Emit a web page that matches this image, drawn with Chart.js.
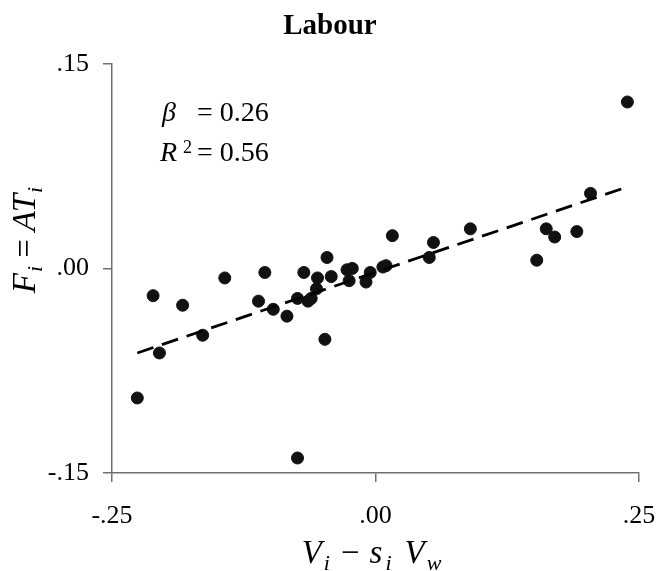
<!DOCTYPE html>
<html>
<head>
<meta charset="utf-8">
<title>Labour</title>
<script src="https://cdn.jsdelivr.net/npm/chart.js@4.4.1/dist/chart.umd.min.js"></script>
<style>
    body { margin: 0; background: #fff; }
    #wrap { width: 660px; height: 571px; }
</style>
</head>
<body>
<div id="wrap"><canvas id="labourChart" width="660" height="571"></canvas></div>
<script>
// data
const xVals = [0.239, 0.204, 0.191, 0.162, 0.170, 0.153, 0.090, 0.055, 0.051, 0.016,
               0.010, 0.007, -0.005, -0.009, -0.022, -0.027, -0.025, -0.042, -0.046, -0.048,
               -0.056, -0.055, -0.061, -0.064, -0.068, -0.074, -0.074, -0.084, -0.097, -0.105,
               -0.111, -0.143, -0.164, -0.183, -0.205, -0.211, -0.226];
const yVals = [0.122, 0.055, 0.027, 0.029, 0.023, 0.006, 0.029, 0.019, 0.008, 0.024,
               0.002, 0.001, -0.003, -0.010, 0.000, -0.001, -0.009, -0.006, 0.008, -0.052,
               -0.015, -0.007, -0.022, -0.024, -0.003, -0.022, -0.139, -0.035, -0.030, -0.003,
               -0.024, -0.007, -0.049, -0.027, -0.062, -0.020, -0.095];
const fitX = [-0.226, 0.240];
const fitY = [-0.062, 0.060];
const xTicks = [-0.25, 0, 0.25];
const yTicks = [-0.15, 0, 0.15];
const chartTitle = 'Labour';
const betaValue = '0.26';
const r2Value = '0.56';

const SERIF = '"Liberation Serif", "Times New Roman", serif';
const AXIS_COLOR = '#707070';

function fmtTick(v) {
    const s = Math.abs(v).toFixed(2).replace(/^0/, '');
    return (v < 0 ? '-' : '') + s;
}

// draws a line of text made of pieces with their own font and vertical shift
function drawPieces(ctx, pieces, x, y, align) {
    let total = 0;
    pieces.forEach(p => {
        ctx.font = p.font;
        p.w = ctx.measureText(p.t).width + (p.gap || 0);
        total += p.w;
    });
    let cx = align === 'center' ? x - total / 2 : x;
    pieces.forEach(p => {
        ctx.font = p.font;
        ctx.fillText(p.t, cx, y + (p.dy || 0));
        cx += p.w;
    });
}

const it = size => `italic ${size}px ${SERIF}`;
const rm = size => `${size}px ${SERIF}`;

const textPlugin = {
    id: 'textPlugin',
    afterDraw(chart) {
        const { ctx, chartArea } = chart;
        ctx.save();
        ctx.fillStyle = '#000';
        ctx.textBaseline = 'alphabetic';
        ctx.textAlign = 'left';

        // annotation: beta and R squared
        const ax = chartArea.left + 50;
        const ay = chartArea.top + 57;
        ctx.font = it(28);
        ctx.fillText('β', ax, ay);
        ctx.fillText('R', ax - 2, ay + 40);
        ctx.font = rm(18);
        ctx.fillText('2', ax + 21, ay + 32);
        ctx.font = rm(28);
        ctx.fillText('= ' + betaValue, ax + 35, ay);
        ctx.fillText('= ' + r2Value, ax + 35, ay + 40);

        // x axis title
        const mid = (chartArea.left + chartArea.right) / 2 - 4;
        drawPieces(ctx, [
            { t: 'V', font: it(33), gap: 2 },
            { t: 'i', font: it(22), dy: 7, gap: 11 },
            { t: '\u2212', font: rm(33), gap: 10 },
            { t: 's', font: it(33), gap: 3 },
            { t: 'i', font: it(22), dy: 7, gap: 13 },
            { t: 'V', font: it(33), gap: 2 },
            { t: 'w', font: it(22), dy: 7 }
        ], mid, 563, 'center');

        // y axis title
        ctx.translate(35, 240);
        ctx.rotate(-Math.PI / 2);
        drawPieces(ctx, [
            { t: 'F', font: it(33), gap: 1 },
            { t: 'i', font: it(22), dy: 7, gap: 8 },
            { t: '=', font: rm(33), gap: 8 },
            { t: 'AT', font: it(33), gap: 1 },
            { t: 'i', font: it(22), dy: 7 }
        ], 0, 0, 'center');
        ctx.restore();
    }
};

const axisGrid = {
    drawOnChartArea: false,
    drawTicks: true,
    tickLength: 9,
    color: AXIS_COLOR,
    lineWidth: 1.5
};

new Chart(document.getElementById('labourChart'), {
    type: 'scatter',
    data: {
        datasets: [
            {
                label: 'countries',
                data: xVals.map((x, i) => ({ x: x, y: yVals[i] })),
                backgroundColor: '#111',
                borderColor: '#111',
                pointRadius: 6,
                pointHoverRadius: 6,
                order: 2
            },
            {
                type: 'line',
                label: 'fit',
                data: fitX.map((x, i) => ({ x: x, y: fitY[i] })),
                borderColor: '#000',
                borderWidth: 2.8,
                borderDash: [17, 9],
                pointRadius: 0,
                fill: false,
                order: 1
            }
        ]
    },
    options: {
        responsive: false,
        animation: false,
        events: [],
        layout: { padding: 0 },
        plugins: {
            legend: { display: false },
            tooltip: { enabled: false },
            title: {
                display: true,
                text: chartTitle,
                color: '#000',
                font: { family: SERIF, size: 29, weight: 'bold' },
                padding: { top: 9, bottom: 20 }
            }
        },
        scales: {
            x: {
                type: 'linear',
                min: -0.25,
                max: 0.25,
                afterBuildTicks: scale => { scale.ticks = xTicks.map(v => ({ value: v })); },
                afterFit: scale => { scale.height = 98; scale.paddingRight = 21; },
                grid: axisGrid,
                border: { display: true, color: AXIS_COLOR, width: 1.5 },
                ticks: {
                    color: '#000',
                    padding: 19,
                    maxRotation: 0,
                    font: { family: SERIF, size: 26 },
                    callback: v => fmtTick(v)
                }
            },
            y: {
                type: 'linear',
                min: -0.15,
                max: 0.15,
                afterBuildTicks: scale => { scale.ticks = yTicks.map(v => ({ value: v })); },
                afterFit: scale => { scale.width = 112; },
                grid: axisGrid,
                border: { display: true, color: AXIS_COLOR, width: 1.5 },
                ticks: {
                    color: '#000',
                    padding: 14,
                    font: { family: SERIF, size: 26 },
                    callback: v => fmtTick(v)
                }
            }
        }
    },
    plugins: [textPlugin]
});
</script>
</body>
</html>
